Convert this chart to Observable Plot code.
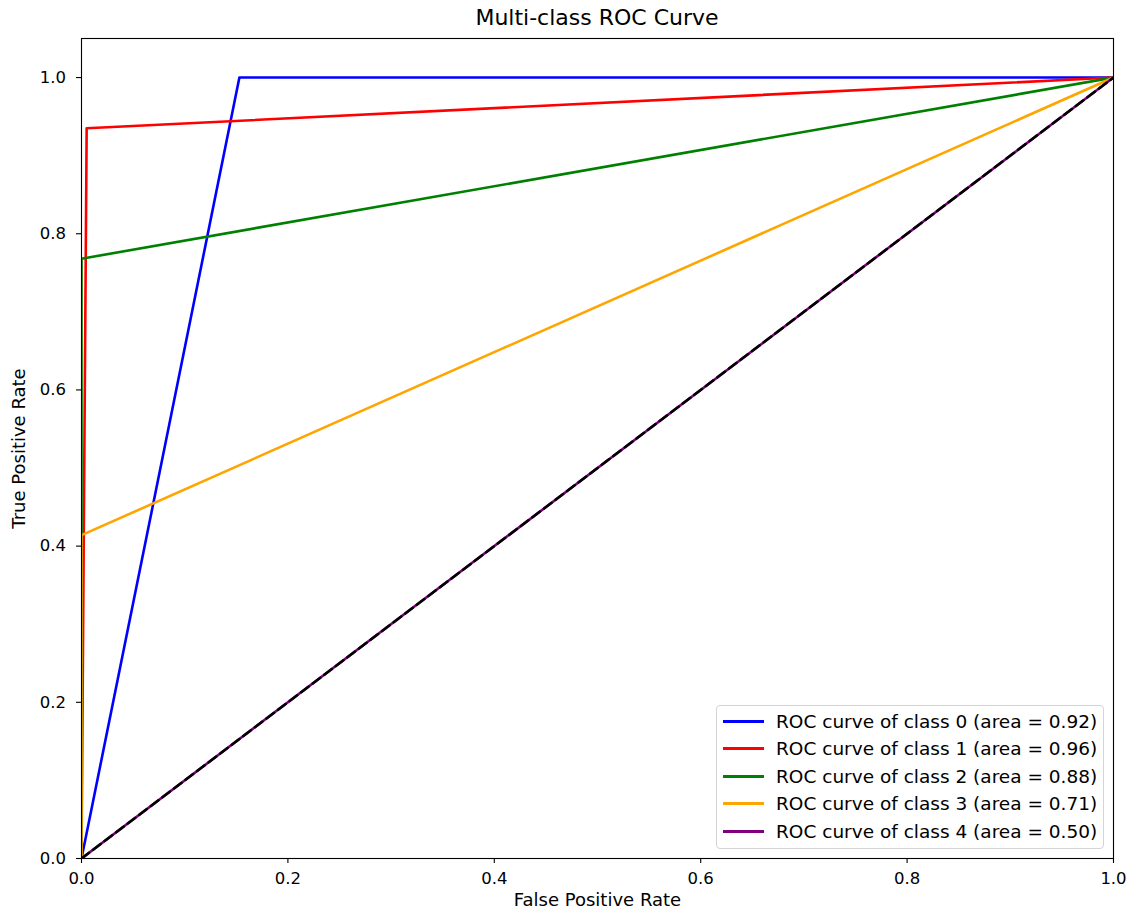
<!DOCTYPE html>
<html>
<head>
<meta charset="utf-8">
<script src="https://cdn.jsdelivr.net/npm/d3@7"></script>
<script src="https://cdn.jsdelivr.net/npm/@observablehq/plot@0.6"></script>
<style>
  body { margin: 0; background: white; font-family: "DejaVu Sans", sans-serif; }
  #wrap { position: relative; width: 1130px; height: 917px; }
  #title { height: 30px; width: 1032px; padding-left: 81px; text-align: center; font-size: 22px; line-height: 36px; color: #000; overflow: visible; white-space: nowrap; }
  #legend { position: absolute; left: 716px; top: 705px; width: 386px; height: 142px; border: 1px solid #d4d4d4; border-radius: 4px; background: rgba(255,255,255,0.8); box-sizing: content-box; }
  .row { position: absolute; left: 0; height: 28px; display: flex; align-items: center; font-size: 18.5px; color: #000; white-space: nowrap; }
  .sw { display: inline-block; width: 41px; height: 3px; margin-left: 6px; margin-right: 12px; }
</style>
</head>
<body>
<div id="wrap">
  <div id="title">Multi-class ROC Curve</div>
  <div id="chart"></div>
  <div id="legend"></div>
</div>
<script>
// ---- data ----
const classLabels = ["0", "1", "2", "3", "4"];
const classAreas = [0.92, 0.96, 0.88, 0.71, 0.50];
const classColors = ["blue", "red", "green", "orange", "purple"];
const fpr0 = [0, 0.153, 1];   const tpr0 = [0, 1.0, 1];
const fpr1 = [0, 0.005, 1];   const tpr1 = [0, 0.935, 1];
const fpr2 = [0, 0.0, 1];     const tpr2 = [0, 0.768, 1];
const fpr3 = [0, 0.0, 1];     const tpr3 = [0, 0.414, 1];
const fpr4 = [0, 1];          const tpr4 = [0, 1];
const diagX = [0, 1];         const diagY = [0, 1];
const xTicks = [0, 0.2, 0.4, 0.6, 0.8, 1.0];
const yTicks = [0, 0.2, 0.4, 0.6, 0.8, 1.0];
const titleText = "Multi-class ROC Curve";
const xLabel = "False Positive Rate";
const yLabel = "True Positive Rate";

// ---- build table ----
const fprs = [fpr0, fpr1, fpr2, fpr3, fpr4];
const tprs = [tpr0, tpr1, tpr2, tpr3, tpr4];
const curves = classLabels.flatMap((c, i) => fprs[i].map((x, j) => ({x, y: tprs[i][j], cls: c})));
const diag = diagX.map((x, j) => ({x, y: diagY[j]}));

document.getElementById("title").textContent = titleText;

const chart = Plot.plot({
  width: 1130,
  height: 887,
  marginTop: 8,
  marginBottom: 59,
  marginLeft: 81,
  marginRight: 17,
  style: {fontFamily: "DejaVu Sans, sans-serif", fontSize: "16.5px", color: "#000", background: "white", overflow: "visible"},
  x: {domain: [0, 1]},
  y: {domain: [0, 1.05]},
  color: {domain: classLabels, range: classColors},
  marks: [
    Plot.line(curves, {x: "x", y: "y", z: "cls", stroke: "cls", strokeWidth: 2.6, clip: true}),
    Plot.line(diag, {x: "x", y: "y", stroke: "black", strokeWidth: 2.6, strokeDasharray: "9.5,5", clip: true}),
    Plot.frame({stroke: "black", strokeWidth: 1.1}),
    Plot.axisX({ticks: xTicks, tickFormat: d3.format(".1f"), tickSize: 5, tickPadding: 9, label: null, fontSize: 16.5, strokeWidth: 1.1}),
    Plot.axisY({ticks: yTicks, tickFormat: d3.format(".1f"), tickSize: 5, tickPadding: 10.5, label: null, fontSize: 16.5, strokeWidth: 1.1}),
    Plot.text([xLabel], {text: d => d, frameAnchor: "bottom", dy: 47.7, fontSize: 18}),
    Plot.text([yLabel], {text: d => d, frameAnchor: "left", textAnchor: "middle", dx: -62.4, rotate: -90, fontSize: 18})
  ]
});
document.getElementById("chart").appendChild(chart);

// ---- legend ----
const legend = document.getElementById("legend");
classLabels.forEach((c, i) => {
  const row = document.createElement("div");
  row.className = "row";
  row.style.top = (1 + i * 27.6) + "px";
  const sw = document.createElement("span");
  sw.className = "sw";
  sw.style.background = classColors[i];
  row.appendChild(sw);
  const t = document.createElement("span");
  t.textContent = `ROC curve of class ${c} (area = ${classAreas[i].toFixed(2)})`;
  row.appendChild(t);
  legend.appendChild(row);
});
</script>
</body>
</html>
